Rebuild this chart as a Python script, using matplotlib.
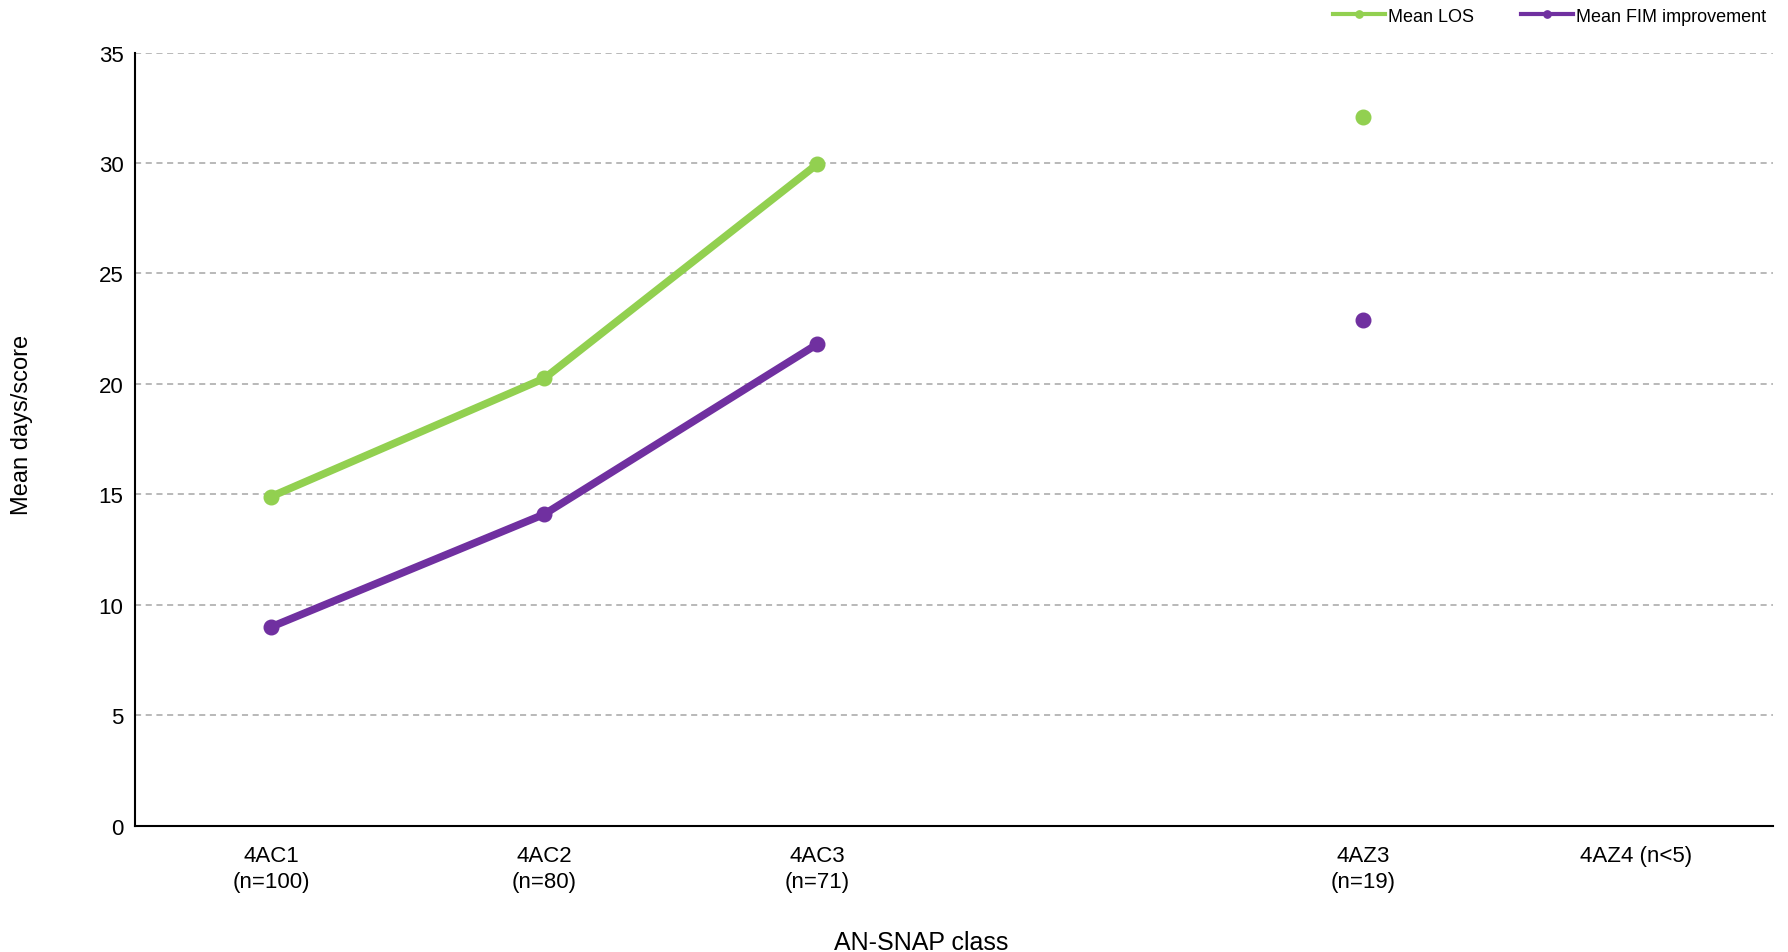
import numpy as np
import matplotlib.pyplot as plt

plt.rcParams['font.family'] = ['Liberation Sans Narrow', 'Liberation Sans', 'DejaVu Sans']

# AN-SNAP classes (one empty slot between 4AC3 and 4AZ3)
categories = ["4AC1\n(n=100)", "4AC2\n(n=80)", "4AC3\n(n=71)", "", "4AZ3\n(n=19)", "4AZ4 (n<5)"]
mean_los = [14.9, 20.25, 29.95, np.nan, 32.1, np.nan]
mean_fim = [9.0, 14.1, 21.8, np.nan, 22.9, np.nan]

green = "#92D050"
purple = "#7030A0"

fig = plt.figure(figsize=(17.88, 9.53), dpi=100)
ax = fig.add_axes([0.0753, 0.1325, 0.9163, 0.8113])

x = np.arange(len(categories))
ax.plot(x, mean_los, color=green, lw=5.5, marker="o", ms=10.5, label="Mean LOS", zorder=3)
ax.plot(x, mean_fim, color=purple, lw=5.5, marker="o", ms=10.5, label="Mean FIM improvement", zorder=3)

ax.set_xlim(-0.5, len(categories) - 0.5)
ax.set_ylim(0, 35)
ax.set_yticks(range(0, 36, 5))
ax.set_xticks(x)
ax.set_xticklabels(categories, fontsize=16, va="top", linespacing=1.3)
ax.tick_params(axis="y", labelsize=16, length=0, pad=8)
ax.tick_params(axis="x", length=0, pad=14)

ax.grid(axis="y", color="#A6A6A6", ls=(0, (4, 3)), lw=1.1)
ax.set_axisbelow(True)
for s in ["top", "right"]:
    ax.spines[s].set_visible(False)
ax.spines["left"].set_linewidth(1.5)
ax.spines["bottom"].set_linewidth(1.5)

ax.set_xlabel("AN-SNAP class", fontsize=18)
ax.xaxis.set_label_coords(0.48, -0.135)
ax.set_ylabel("Mean days/score", fontsize=17, family=["Liberation Sans", "DejaVu Sans"])
ax.yaxis.set_label_coords(-0.062, 0.52)

leg = ax.legend(loc="center right", bbox_to_anchor=(1.0, 1.047), ncol=2, frameon=False,
                fontsize=13, handlelength=2.9, markerscale=0.5, columnspacing=2.6, handletextpad=0.15,
                borderaxespad=0)
for line in leg.get_lines():
    line.set_linewidth(3)

fig.savefig("out.png", dpi=100)
